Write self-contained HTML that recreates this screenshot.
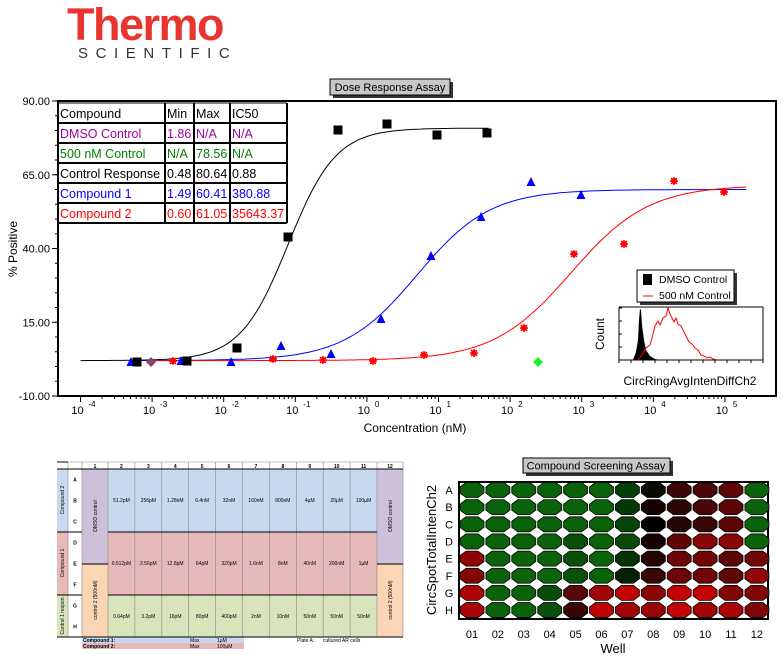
<!DOCTYPE html>
<html><head><meta charset="utf-8"><style>
body{margin:0;background:#fff;width:783px;height:658px;overflow:hidden;position:relative;font-family:"Liberation Sans",sans-serif}
svg{position:absolute;left:0;top:0}
</style></head><body>
<svg id="s" width="783" height="658" xmlns="http://www.w3.org/2000/svg" font-family="Liberation Sans, sans-serif">
<text x="67" y="40" font-size="45" font-weight="bold" fill="#e8352f" letter-spacing="-1.5">Thermo</text>
<text x="78" y="58" font-size="15" fill="#333" letter-spacing="7.6">SCIENTIFIC</text>
<rect x="58" y="101" width="718" height="295" fill="#fff" stroke="#000" stroke-width="2"/>
<g id="main"></g>
<rect x="333" y="82" width="120" height="16" fill="#333"/>
<rect x="330" y="79" width="120" height="16" fill="#c8c8c8" stroke="#000"/>
<text x="390" y="91" font-size="11" text-anchor="middle">Dose Response Assay</text>
<g id="plate"></g>
<g id="wells"></g>
<rect x="526" y="461" width="147" height="15" fill="#333"/>
<rect x="523" y="458" width="147" height="15" fill="#c8c8c8" stroke="#000"/>
<text x="596" y="469.5" font-size="11" text-anchor="middle">Compound Screening Assay</text>
</svg>
<script>
var NS="http://www.w3.org/2000/svg";
function el(p,t,a,txt){var e=document.createElementNS(NS,t);for(var k in a)e.setAttribute(k,a[k]);if(txt!=null)e.textContent=txt;p.appendChild(e);return e;}
var m=document.getElementById('main');
function X(l){return 80.5+(l+4)*71.6;}
function Y(v){return 101+(90-v)*2.95;}
[[90,"90.00"],[65,"65.00"],[40,"40.00"],[15,"15.00"],[-10,"-10.00"]].forEach(function(t){
 el(m,'line',{x1:52,x2:58,y1:Y(t[0]),y2:Y(t[0]),stroke:'#000'});
 el(m,'text',{x:50,y:Y(t[0])+4,'font-size':11,'text-anchor':'end'},t[1]);
});
for(var v=-10;v<=90;v+=5){el(m,'line',{x1:55,x2:58,y1:Y(v),y2:Y(v),stroke:'#000'});}
el(m,'text',{x:0,y:0,'font-size':12,'text-anchor':'middle',transform:'translate(17,249) rotate(-90)'},'% Positive');
for(var d=-4;d<=5;d++){
 el(m,'line',{x1:X(d),x2:X(d),y1:396,y2:402,stroke:'#000'});
 el(m,'text',{x:X(d)-3,y:414,'font-size':11,'text-anchor':'middle'},'10');
 el(m,'text',{x:X(d)+8,y:407,'font-size':8},String(d));
 for(var k=2;k<10;k++){if(d==5&&k>2)break;var xx=X(d+Math.log10(k));el(m,'line',{x1:xx,x2:xx,y1:396,y2:399,stroke:'#000'});}
}
el(m,'text',{x:415,y:432,'font-size':12,'text-anchor':'middle'},'Concentration (nM)');
function curve(mn,mx,ic,h,col,x0,x1){var p='';for(var l=x0;l<=x1+1e-9;l+=0.05){var v=mn+(mx-mn)/(1+Math.pow(10,(ic-l)*h));p+=(p?'L':'M')+X(l).toFixed(1)+','+Y(v).toFixed(1);}el(m,'path',{d:p,fill:'none',stroke:col,'stroke-width':1});}
curve(2,80.8,-1.1,1.3,'#000',-4,1.7);
curve(2,60,0.7,0.85,'#00f',-3.3,5.3);
curve(2,61.5,2.85,0.8,'#f00',-3,5.3);
function sq(x,y){el(m,'rect',{x:x-4.5,y:y-4.5,width:9,height:9,fill:'#000'});}
function tri(x,y){el(m,'path',{d:'M'+x+','+(y-5)+'L'+(x+4.5)+','+(y+4)+'L'+(x-4.5)+','+(y+4)+'Z',fill:'#00f'});}
function ast(x,y){el(m,'circle',{cx:x,cy:y,r:3,fill:'#f00'});el(m,'path',{d:'M'+(x-4)+','+y+'h8M'+x+','+(y-4)+'v8M'+(x-3)+','+(y-3)+'l6,6M'+(x+3)+','+(y-3)+'l-6,6',stroke:'#f00','stroke-width':1.5});}
function dia(x,y,c){el(m,'path',{d:'M'+x+','+(y-5)+'L'+(x+5)+','+y+'L'+x+','+(y+5)+'L'+(x-5)+','+y+'Z',fill:c});}
[[131,362],[181,361],[231,362],[281,346],[331,354],[381,319],[431,256],[481,217],[531,182],[581,195]].forEach(function(p){tri(p[0],p[1]);});
[[173,361],[273,359],[323,360],[373,361],[424,355],[474,353],[524,328],[574,254],[624,244],[674,181],[724,192]].forEach(function(p){ast(p[0],p[1]);});
[[137,362],[187,361],[237,348],[288,237],[338,130],[387,124],[437,135],[487,133]].forEach(function(p){sq(p[0],p[1]);});
dia(151,362,'#884466');dia(538,362,'#22ee22');
var rows=[["Compound","Min","Max","IC50","#000"],["DMSO Control","1.86","N/A","N/A","#a000a0"],["500 nM Control","N/A","78.56","N/A","#008000"],["Control Response","0.48","80.64","0.88","#000"],["Compound 1","1.49","60.41","380.88","#00f"],["Compound 2","0.60","61.05","35643.37","#f00"]];
var cx=[58,165,194,230,287];
el(m,'rect',{x:58,y:103,width:229,height:120,fill:'#fff'});
rows.forEach(function(r,i){var y=103+i*20;for(var c=0;c<4;c++){el(m,'text',{x:cx[c]+2,y:y+15,'font-size':12.5,fill:r[4]},r[c]);}
 el(m,'line',{x1:58,x2:287,y1:y+20,y2:y+20,stroke:'#000','stroke-width':2});});
el(m,'line',{x1:58,x2:287,y1:103,y2:103,stroke:'#000','stroke-width':1});
cx.forEach(function(x){el(m,'line',{x1:x,x2:x,y1:103,y2:223,stroke:'#000','stroke-width':2});});
el(m,'rect',{x:640,y:273,width:97,height:32,fill:'#333'});
el(m,'rect',{x:637,y:270,width:97,height:32,fill:'#fff',stroke:'#000'});
el(m,'rect',{x:643,y:274,width:9,height:11,fill:'#000'});
el(m,'text',{x:659,y:283,'font-size':10.5},'DMSO Control');
el(m,'line',{x1:643,x2:653,y1:296,y2:296,stroke:'#f00'});
el(m,'text',{x:659,y:299,'font-size':10.5},'500 nM Control');
el(m,'line',{x1:619,x2:763,y1:307,y2:307,stroke:'#000'});
el(m,'line',{x1:619,x2:763,y1:360,y2:360,stroke:'#000'});
el(m,'line',{x1:619,x2:619,y1:307,y2:360,stroke:'#000'});
el(m,'line',{x1:763,x2:763,y1:307,y2:360,stroke:'#000'});
for(var i=0;i<=12;i++){var xx=619+i*12;el(m,'line',{x1:xx,x2:xx,y1:360,y2:363,stroke:'#000'});}
for(var i=0;i<5;i++){el(m,'line',{x1:619,x2:622,y1:360-i*13,y2:360-i*13,stroke:'#000'});}
el(m,'path',{d:'M633,360L636,352L638,340L639,320L640,309L641,310L642,325L644,340L646,350L650,356L655,359L660,360Z',fill:'#000'});
el(m,'path',{d:'M638,360L642,355L646,348L650,345L652,338L655,326L658,321L660,325L663,318L666,316L668,308L670,314L672,318L674,322L676,318L678,324L681,326L683,330L686,336L689,342L692,344L695,348L698,350L701,355L704,356L707,358L710,357L713,359L718,360',fill:'none',stroke:'#f00'});
el(m,'text',{x:0,y:0,'font-size':12,'text-anchor':'middle',transform:'translate(604,334) rotate(-90)'},'Count');
el(m,'text',{x:690,y:385,'font-size':12,'text-anchor':'middle'},'CircRingAvgIntenDiffCh2');

var P=document.getElementById('plate');
var B='#c6d9ef',R='#e6b8b8',G='#d7e4bc',PU='#ccc0da',O='#fcd5b4';
var colx=[82,108];for(var i=1;i<=10;i++)colx.push(108+i*26.9);colx.push(403);
var y0=469,y1=532,y2=595,y3=637;
el(P,'rect',{x:57,y:y0,width:11,height:y1-y0,fill:B});
el(P,'rect',{x:57,y:y1,width:11,height:y2-y1,fill:R});
el(P,'rect',{x:57,y:y2,width:11,height:y3-y2,fill:G});
el(P,'rect',{x:82,y:y0,width:26,height:95,fill:PU});el(P,'rect',{x:82,y:564,width:26,height:73,fill:O});
el(P,'rect',{x:377,y:y0,width:26,height:95,fill:PU});el(P,'rect',{x:377,y:564,width:26,height:73,fill:O});
el(P,'rect',{x:108,y:y0,width:269,height:y1-y0,fill:B});
el(P,'rect',{x:108,y:y1,width:269,height:y2-y1,fill:R});
el(P,'rect',{x:108,y:y2,width:269,height:y3-y2,fill:G});
el(P,'rect',{x:82,y:637,width:120,height:6,fill:B});el(P,'rect',{x:202,y:637,width:42,height:6,fill:B});
el(P,'rect',{x:82,y:643,width:162,height:6,fill:R});
for(var i=0;i<colx.length;i++){el(P,'line',{x1:colx[i],x2:colx[i],y1:462,y2:637,stroke:'#888','stroke-width':0.6});}
el(P,'line',{x1:68,x2:68,y1:462,y2:637,stroke:'#888','stroke-width':0.6});
el(P,'line',{x1:68,x2:403,y1:462,y2:462,stroke:'#888','stroke-width':0.6});
el(P,'line',{x1:57,x2:403,y1:469,y2:469,stroke:'#000','stroke-width':1});
el(P,'line',{x1:57,x2:68,y1:462,y2:462,stroke:'#000','stroke-width':1});
el(P,'line',{x1:57,x2:82,y1:y1,y2:y1,stroke:'#000','stroke-width':1});el(P,'line',{x1:108,x2:377,y1:y1,y2:y1,stroke:'#000','stroke-width':1});
el(P,'line',{x1:57,x2:82,y1:y2,y2:y2,stroke:'#000','stroke-width':1});el(P,'line',{x1:108,x2:377,y1:y2,y2:y2,stroke:'#000','stroke-width':1});
el(P,'line',{x1:82,x2:108,y1:564,y2:564,stroke:'#000'});el(P,'line',{x1:377,x2:403,y1:564,y2:564,stroke:'#000'});
el(P,'line',{x1:57,x2:403,y1:637,y2:637,stroke:'#000'});
for(var i=1;i<=12;i++){el(P,'text',{x:(colx[i-1]+colx[i])/2,y:468,'font-size':5,'text-anchor':'middle','font-weight':'bold'},String(i));}
"ABCDEFGH".split('').forEach(function(c,i){var yy=y0+10.5+i*21;if(i>=6)yy=y2+10.5+(i-6)*21;el(P,'text',{x:75,y:yy+2,'font-size':5,'text-anchor':'middle','font-weight':'bold'},c);});
var cb=["51.2pM","256pM","1.28nM","6.4nM","32nM","160nM","800nM","4µM","20µM","100µM"],
cr=["0.512pM","2.56pM","12.8pM","64pM","320pM","1.6nM","8nM","40nM","200nM","1µM"],
cg=["0.64pM","3.2pM","16pM","80pM","400pM","2nM","10nM","50nM","50nM","50nM"];
for(var i=0;i<10;i++){var xm=(colx[i+1]+colx[i+2])/2;
 el(P,'text',{x:xm,y:502,'font-size':5,'text-anchor':'middle'},cb[i]);
 el(P,'text',{x:xm,y:565,'font-size':5,'text-anchor':'middle'},cr[i]);
 el(P,'text',{x:xm,y:618,'font-size':5,'text-anchor':'middle'},cg[i]);}
function vt(x,y,s){el(P,'text',{x:0,y:0,'font-size':5,'text-anchor':'middle',transform:'translate('+x+','+y+') rotate(-90)'},s);}
vt(64,500,'Compound 2');vt(64,563,'Compound 1');vt(64,616,'Control 1 respon');
vt(97,516,'DMSO control');vt(392,516,'DMSO control');vt(97,600,'control 2 (500nM)');vt(392,600,'control 2 (500nM)');
el(P,'text',{x:83,y:642,'font-size':5,'font-weight':'bold'},'Compound 1:');
el(P,'text',{x:83,y:648,'font-size':5,'font-weight':'bold'},'Compound 2:');
el(P,'text',{x:190,y:642,'font-size':5},'Max');el(P,'text',{x:217,y:642,'font-size':5},'1µM');
el(P,'text',{x:190,y:648,'font-size':5},'Max');el(P,'text',{x:217,y:648,'font-size':5},'100µM');
el(P,'text',{x:297,y:642,'font-size':5},'Plate A:');el(P,'text',{x:323,y:642,'font-size':5},'cultured AR cells');

var W=document.getElementById('wells');
el(W,'rect',{x:459,y:482,width:309,height:137,fill:'#fff',stroke:'#000','stroke-width':2});
var g='#0a630a';
var M=[
[g,g,g,g,g,g,'#043f04','#0a0a00','#3c0606','#4a0606','#600606',g],
[g,g,g,g,g,g,'#053805','#150303','#2c0505','#4a0606','#5a0606',g],
[g,g,g,g,g,g,'#064506','#050000','#250404','#3a0606','#5a0606',g],
[g,g,g,g,'#0a4f0a',g,'#0a4a0a','#180303','#600606','#8a0606','#8a0606',g],
['#900606',g,g,g,'#0a4f0a',g,'#053205','#250404','#6a0606','#700606','#5a0606','#700606'],
['#800606',g,g,g,'#0a500a',g,'#052005','#3a0505','#6a0606','#700606','#5c0606','#900606'],
['#b00404',g,g,'#0a4a0a','#550606','#a00606','#c00404','#8a0606','#c00404','#c40404','#800606','#800606'],
['#a80606',g,g,'#0a500a','#3a0505','#c00404','#a00606','#9a0606','#c40404','#a00606','#aa0606','#800606']];
for(var r=0;r<8;r++){var cy=490+r*17.15;
 el(W,'text',{x:449,y:cy+4,'font-size':11,'text-anchor':'middle',fill:'#000'},"ABCDEFGH"[r]);
 for(var c=0;c<12;c++){var cxx=472+c*25.9;
  el(W,'path',{d:'M'+(cxx-6)+','+(cy-7.5)+'h12l6,4.5v6l-6,4.5h-12l-6,-4.5v-6z',fill:M[r][c],stroke:'#000','stroke-width':0.8});}}
for(var c=0;c<12;c++){el(W,'text',{x:472+c*25.9,y:638,'font-size':11,'text-anchor':'middle'},(c<9?'0':'')+(c+1));}
el(W,'text',{x:613,y:653,'font-size':13,'text-anchor':'middle'},'Well');
el(W,'text',{x:0,y:0,'font-size':13,'text-anchor':'middle',transform:'translate(436,550) rotate(-90)'},'CircSpotTotalIntenCh2');
</script>
</body></html>
